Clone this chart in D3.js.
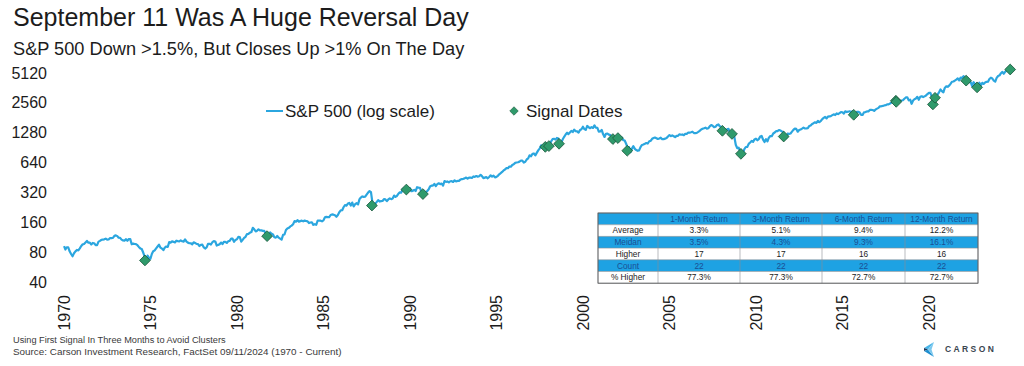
<!DOCTYPE html>
<html>
<head>
<meta charset="utf-8">
<script src="https://cdn.jsdelivr.net/npm/d3@7"></script>
<style>
  body { margin: 0; background: #fff; }
  svg { display: block; font-family: "Liberation Sans", Arial, sans-serif; }
</style>
</head>
<body>
<div id="chart"></div>
<script>
// S&P 500 month-end closes (one row per year)
const spxCloses = [
  [1970, [85.0, 89.5, 89.6, 81.5, 76.6, 72.7, 78.0, 81.5, 84.2, 83.3, 87.2, 92.2]],
  [1971, [95.9, 96.8, 100.3, 103.9, 99.6, 99.7, 95.6, 99.0, 98.3, 94.2, 94.0, 102.1]],
  [1972, [103.9, 106.6, 107.2, 107.7, 109.5, 107.1, 107.4, 111.1, 110.6, 111.6, 116.7, 118.1]],
  [1973, [116.0, 111.7, 111.5, 107.0, 105.0, 104.3, 108.2, 104.3, 108.4, 108.3, 96.0, 97.6]],
  [1974, [96.6, 96.2, 94.0, 90.3, 87.3, 86.0, 79.3, 72.2, 63.5, 73.9, 70.0, 68.6]],
  [1975, [77.0, 81.6, 83.4, 87.3, 91.2, 95.2, 88.8, 86.9, 83.9, 89.0, 91.2, 90.2]],
  [1976, [100.9, 99.7, 102.8, 101.6, 100.2, 104.3, 103.4, 102.9, 105.2, 102.9, 102.1, 107.5]],
  [1977, [102.0, 99.8, 98.4, 98.4, 96.1, 100.5, 98.9, 97.0, 96.5, 92.3, 94.8, 95.1]],
  [1978, [89.3, 87.0, 89.2, 97.0, 97.2, 95.5, 100.7, 103.3, 102.5, 93.2, 94.7, 96.1]],
  [1979, [99.9, 96.3, 101.6, 101.8, 99.1, 102.9, 103.8, 109.3, 109.3, 101.8, 106.2, 107.9]],
  [1980, [114.2, 113.7, 102.1, 106.3, 111.2, 114.2, 121.7, 122.4, 125.5, 127.5, 140.5, 135.8]],
  [1981, [129.6, 131.3, 136.0, 132.8, 132.6, 131.2, 130.9, 122.8, 116.2, 121.9, 126.4, 122.6]],
  [1982, [120.4, 113.1, 112.0, 116.4, 111.9, 109.6, 107.1, 119.5, 120.4, 133.7, 138.5, 140.6]],
  [1983, [145.3, 148.1, 153.0, 164.4, 162.4, 168.1, 162.6, 164.4, 166.1, 163.6, 166.4, 164.9]],
  [1984, [163.4, 157.1, 159.2, 160.1, 150.6, 153.2, 150.7, 166.7, 166.1, 166.1, 163.6, 167.2]],
  [1985, [179.6, 181.2, 180.7, 179.8, 189.6, 191.9, 190.9, 188.6, 182.1, 189.8, 202.2, 211.3]],
  [1986, [211.8, 226.9, 238.9, 235.5, 247.4, 250.8, 236.1, 252.9, 231.3, 244.0, 249.2, 242.2]],
  [1987, [274.1, 284.2, 291.7, 288.4, 290.1, 304.0, 318.7, 329.8, 321.8, 251.8, 230.3, 247.1]],
  [1988, [257.1, 267.8, 258.9, 261.3, 262.2, 273.5, 272.0, 261.5, 271.9, 279.0, 273.7, 277.7]],
  [1989, [297.5, 288.9, 294.9, 309.6, 320.5, 318.0, 346.1, 351.5, 349.2, 340.4, 346.0, 353.4]],
  [1990, [329.1, 331.9, 339.9, 330.8, 361.2, 358.0, 356.2, 322.6, 306.1, 304.0, 322.2, 330.2]],
  [1991, [343.9, 367.1, 375.2, 375.3, 389.8, 371.2, 387.8, 395.4, 387.9, 392.5, 375.2, 417.1]],
  [1992, [408.8, 412.7, 403.7, 415.0, 415.4, 408.1, 424.2, 414.0, 417.8, 418.7, 431.4, 435.7]],
  [1993, [438.8, 443.4, 451.7, 440.2, 450.2, 450.5, 448.1, 463.6, 458.9, 467.8, 461.8, 466.5]],
  [1994, [481.6, 467.1, 445.8, 450.9, 456.5, 444.3, 458.3, 475.5, 462.7, 472.4, 453.7, 459.3]],
  [1995, [470.4, 487.4, 500.7, 514.7, 533.4, 544.8, 562.1, 561.9, 584.4, 581.5, 605.4, 615.9]],
  [1996, [636.0, 640.4, 645.5, 654.2, 669.1, 670.6, 640.0, 652.0, 687.3, 705.3, 757.0, 740.7]],
  [1997, [786.2, 790.8, 757.1, 801.3, 848.3, 885.1, 954.3, 899.5, 947.3, 914.6, 955.4, 970.4]],
  [1998, [980.3, 1049.3, 1101.8, 1111.8, 1090.8, 1133.8, 1120.7, 957.3, 1017.0, 1098.7, 1163.6, 1229.2]],
  [1999, [1279.6, 1238.3, 1286.4, 1335.2, 1301.8, 1372.7, 1328.7, 1320.4, 1282.7, 1362.9, 1388.9, 1469.3]],
  [2000, [1394.5, 1366.4, 1498.6, 1452.4, 1420.6, 1454.6, 1430.8, 1517.7, 1436.5, 1429.4, 1315.2, 1320.3]],
  [2001, [1366.0, 1239.9, 1160.3, 1249.5, 1255.8, 1224.4, 1211.2, 1133.6, 1040.9, 1059.8, 1139.5, 1148.1]],
  [2002, [1130.2, 1106.7, 1147.4, 1076.9, 1067.1, 989.8, 911.6, 916.1, 815.3, 885.8, 936.3, 879.8]],
  [2003, [855.7, 841.2, 848.2, 916.9, 963.6, 974.5, 990.3, 1008.0, 996.0, 1050.7, 1058.2, 1111.9]],
  [2004, [1131.1, 1144.9, 1126.2, 1107.3, 1120.7, 1140.8, 1101.7, 1104.2, 1114.6, 1130.2, 1173.8, 1211.9]],
  [2005, [1181.3, 1203.6, 1180.6, 1156.9, 1191.5, 1191.3, 1234.2, 1220.3, 1228.8, 1207.0, 1249.5, 1248.3]],
  [2006, [1280.1, 1280.7, 1294.9, 1310.6, 1270.1, 1270.2, 1276.7, 1303.8, 1335.9, 1377.9, 1400.6, 1418.3]],
  [2007, [1438.2, 1406.8, 1420.9, 1482.4, 1530.6, 1503.4, 1455.3, 1474.0, 1526.8, 1549.4, 1481.1, 1468.4]],
  [2008, [1378.6, 1330.6, 1322.7, 1385.6, 1400.4, 1280.0, 1267.4, 1282.8, 1166.4, 968.8, 896.2, 903.3]],
  [2009, [825.9, 735.1, 797.9, 872.8, 919.1, 919.3, 987.5, 1020.6, 1057.1, 1036.2, 1095.6, 1115.1]],
  [2010, [1073.9, 1104.5, 1169.4, 1186.7, 1089.4, 1030.7, 1101.6, 1049.3, 1141.2, 1183.3, 1180.6, 1257.6]],
  [2011, [1286.1, 1327.2, 1325.8, 1363.6, 1345.2, 1320.6, 1292.3, 1218.9, 1131.4, 1253.3, 1247.0, 1257.6]],
  [2012, [1312.4, 1365.7, 1408.5, 1397.9, 1310.3, 1362.2, 1379.3, 1406.6, 1440.7, 1412.2, 1416.2, 1426.2]],
  [2013, [1498.1, 1514.7, 1569.2, 1597.6, 1630.7, 1606.3, 1685.7, 1633.0, 1681.6, 1756.5, 1805.8, 1848.4]],
  [2014, [1782.6, 1859.5, 1872.3, 1884.0, 1923.6, 1960.2, 1930.7, 2003.4, 1972.3, 2018.1, 2067.6, 2058.9]],
  [2015, [1995.0, 2104.5, 2067.9, 2085.5, 2107.4, 2063.1, 2103.8, 1972.2, 1920.0, 2079.4, 2080.4, 2043.9]],
  [2016, [1940.2, 1932.2, 2059.7, 2065.3, 2097.0, 2098.9, 2173.6, 2171.0, 2168.3, 2126.2, 2198.8, 2238.8]],
  [2017, [2278.9, 2363.6, 2362.7, 2384.2, 2411.8, 2423.4, 2470.3, 2471.7, 2519.4, 2575.3, 2647.6, 2673.6]],
  [2018, [2823.8, 2713.8, 2640.9, 2648.1, 2705.3, 2718.4, 2816.3, 2901.5, 2914.0, 2711.7, 2760.2, 2506.9]],
  [2019, [2704.1, 2784.5, 2834.4, 2945.8, 2752.1, 2941.8, 2980.4, 2926.5, 2976.7, 3037.6, 3141.0, 3230.8]],
  [2020, [3225.5, 2954.2, 2584.6, 2912.4, 3044.3, 3100.3, 3271.1, 3500.3, 3363.0, 3270.0, 3621.6, 3756.1]],
  [2021, [3714.2, 3811.2, 3972.9, 4181.2, 4204.1, 4297.5, 4395.3, 4522.7, 4307.5, 4605.4, 4567.0, 4766.2]],
  [2022, [4515.6, 4373.9, 4530.4, 4131.9, 4132.2, 3785.4, 4130.3, 3955.0, 3585.6, 3872.0, 4080.1, 3839.5]],
  [2023, [4076.6, 3970.2, 4109.3, 4169.5, 4179.8, 4450.4, 4589.0, 4507.7, 4288.1, 4193.8, 4567.8, 4769.8]],
  [2024, [4845.7, 5096.3, 5254.4, 5035.7, 5277.5, 5460.5, 5522.3, 5648.4]]
];
const spxStart = ["1970-01-02", 92.1];
const spxLast = ["2024-09-11", 5554.1];

// Signal dates (down >1.5% intraday, close up >1%)
const signalDates = [
  "1974-09-06", "1981-09-28", "1987-10-20", "1989-10-16", "1990-10-01",
  "1997-10-28", "1998-01-12", "1998-08-14", "2001-09-24", "2002-01-08",
  "2002-07-24", "2008-01-23", "2008-08-12", "2009-02-17", "2011-08-09",
  "2015-08-26", "2018-02-01", "2018-02-09", "2020-03-24", "2020-05-08",
  "2022-02-24", "2022-10-13", "2024-09-11"
];
const signalValues = [
  66, 116, 236, 342, 308,
  922, 939, 990, 1105, 1130,
  843, 1338, 1245, 784, 1172,
  1940, 2690, 2620, 2470, 2880,
  4288, 3669, 5554
];

const yTicks = [40, 80, 160, 320, 640, 1280, 2560, 5120];
const xTickYears = [1970, 1975, 1980, 1985, 1990, 1995, 2000, 2005, 2010, 2015, 2020];

// stats table
const tableHeader = ["", "1-Month Return", "3-Month Return", "6-Month Return", "12-Month Return"];
const tableRowLabels = ["Average", "Meidan", "Higher", "Count", "% Higher"];
const tableValues = [
  ["3.3%", "5.1%", "9.4%", "12.2%"],
  ["3.5%", "4.3%", "9.3%", "16.1%"],
  ["17", "17", "16", "16"],
  ["22", "22", "22", "22"],
  ["77.3%", "77.3%", "72.7%", "72.7%"]
];

const W = 1024, H = 366;
const lineColor = "#2ba6df";
const diamondFill = "#2f9a6b";
const tableBlue = "#1ea2e3";

const parse = d3.timeParse("%Y-%m-%d");
const series = [{ date: parse(spxStart[0]), value: spxStart[1] }];
spxCloses.forEach(([yr, vals]) => {
  vals.forEach((v, m) => series.push({ date: new Date(yr, m + 1, 0), value: v }));
});
series.push({ date: parse(spxLast[0]), value: spxLast[1] });

const signals = signalDates.map((d, i) => ({ date: parse(d), value: signalValues[i] }));

const svg = d3.select("#chart").append("svg")
  .attr("width", W)
  .attr("height", H);

svg.append("rect").attr("width", W).attr("height", H).attr("fill", "#fff");

const x = d3.scaleTime()
  .domain([new Date(1970, 0, 1), new Date(2025, 0, 1)])
  .range([64, 64 + 55 * 17.3]);

const y = d3.scaleLog().base(2)
  .domain([40, 5120])
  .range([282, 73]);

// titles
svg.append("text")
  .attr("x", 13).attr("y", 26)
  .attr("font-size", 25)
  .attr("fill", "#1c1c1c")
  .text("September 11 Was A Huge Reversal Day");

svg.append("text")
  .attr("x", 13).attr("y", 55)
  .attr("font-size", 18.2)
  .attr("fill", "#1c1c1c")
  .text("S&P 500 Down >1.5%, But Closes Up >1% On The Day");

// y axis labels
svg.append("g").selectAll("text")
  .data(yTicks)
  .join("text")
  .attr("x", 47)
  .attr("y", d => y(d))
  .attr("dy", "0.35em")
  .attr("text-anchor", "end")
  .attr("font-size", 16)
  .attr("fill", "#1c1c1c")
  .text(d => d);

// x axis labels (rotated)
svg.append("g").selectAll("text")
  .data(xTickYears)
  .join("text")
  .attr("transform", d => `translate(${x(new Date(d, 0, 1))},295) rotate(-90)`)
  .attr("dy", "0.35em")
  .attr("text-anchor", "end")
  .attr("font-size", 16)
  .attr("fill", "#1c1c1c")
  .text(d => d);

// price line
const line = d3.line()
  .x(d => x(d.date))
  .y(d => y(d.value));

svg.append("path")
  .datum(series)
  .attr("fill", "none")
  .attr("stroke", lineColor)
  .attr("stroke-width", 2.2)
  .attr("stroke-linejoin", "round")
  .attr("d", line);

// signal diamonds
const diamond = d3.symbol().type(d3.symbolSquare).size(58);
svg.append("g").selectAll("path")
  .data(signals)
  .join("path")
  .attr("transform", d => `translate(${x(d.date)},${y(d.value)}) rotate(45)`)
  .attr("d", diamond)
  .attr("fill", diamondFill)
  .attr("stroke", "#1d5a3e")
  .attr("stroke-width", 0.8);

// legend
const legend = svg.append("g");
legend.append("line")
  .attr("x1", 266).attr("x2", 283)
  .attr("y1", 111).attr("y2", 111)
  .attr("stroke", lineColor).attr("stroke-width", 2);
legend.append("text")
  .attr("x", 285).attr("y", 111).attr("dy", "0.35em")
  .attr("font-size", 17).attr("fill", "#1c1c1c")
  .text("S&P 500 (log scale)");
legend.append("path")
  .attr("transform", "translate(514,111) rotate(45)")
  .attr("d", d3.symbol().type(d3.symbolSquare).size(36))
  .attr("fill", diamondFill).attr("stroke", "#1d5a3e").attr("stroke-width", 0.6);
legend.append("text")
  .attr("x", 526).attr("y", 111).attr("dy", "0.35em")
  .attr("font-size", 17).attr("fill", "#1c1c1c")
  .text("Signal Dates");

// table
const colEdges = [598, 658, 740, 822, 905, 978];
const rowTop = 213, rowH = 11.7;
const table = svg.append("g").attr("font-size", 8.3);
const allRows = [tableHeader].concat(tableRowLabels.map((r, i) => [r].concat(tableValues[i])));

allRows.forEach((row, ri) => {
  const isBlue = ri === 0 || ri === 2 || ri === 4;
  const ty = rowTop + ri * rowH;
  table.append("rect")
    .attr("x", colEdges[0]).attr("y", ty)
    .attr("width", colEdges[5] - colEdges[0]).attr("height", rowH)
    .attr("fill", isBlue ? tableBlue : "#fff");
  row.forEach((cell, ci) => {
    table.append("text")
      .attr("x", (colEdges[ci] + colEdges[ci + 1]) / 2)
      .attr("y", ty + rowH / 2)
      .attr("dy", "0.35em")
      .attr("text-anchor", "middle")
      .attr("fill", isBlue ? "#1b4f94" : "#222")
      .text(cell);
  });
});

// table grid
const tableBottom = rowTop + allRows.length * rowH;
d3.range(allRows.length + 1).forEach(i => {
  table.append("line")
    .attr("x1", colEdges[0]).attr("x2", colEdges[5])
    .attr("y1", rowTop + i * rowH).attr("y2", rowTop + i * rowH)
    .attr("stroke", "#8a8f94").attr("stroke-width", 0.6);
});
colEdges.forEach(cx => {
  table.append("line")
    .attr("x1", cx).attr("x2", cx)
    .attr("y1", rowTop).attr("y2", tableBottom)
    .attr("stroke", "#8a8f94").attr("stroke-width", 0.6);
});
table.append("rect")
  .attr("x", colEdges[0]).attr("y", rowTop)
  .attr("width", colEdges[5] - colEdges[0]).attr("height", tableBottom - rowTop)
  .attr("fill", "none").attr("stroke", "#555").attr("stroke-width", 0.8);

// footnotes
svg.append("text")
  .attr("x", 13).attr("y", 343)
  .attr("font-size", 9.2).attr("fill", "#3a3a3a")
  .text("Using First Signal In Three Months to Avoid Clusters");
svg.append("text")
  .attr("x", 13).attr("y", 355)
  .attr("font-size", 9.9).attr("fill", "#3a3a3a")
  .text("Source: Carson Investment Research, FactSet 09/11/2024 (1970 - Current)");

// Carson logo
const logo = svg.append("g").attr("transform", "translate(924,342)");
logo.append("path").attr("d", "M10,0 L0,6 L4,7.5 Z").attr("fill", "#48b4e8");
logo.append("path").attr("d", "M0,6 L4,7.5 L0,9 Z").attr("fill", "#1d3557");
logo.append("path").attr("d", "M4,7.5 L0,9 L10,15 Z").attr("fill", "#1f8fd0");
logo.append("path").attr("d", "M10,0 L4,7.5 L10,15 L7.5,7.5 Z").attr("fill", "#7cc8ee");
svg.append("text")
  .attr("x", 945).attr("y", 352)
  .attr("font-size", 8.5)
  .attr("font-weight", "bold")
  .attr("letter-spacing", 2.4)
  .attr("fill", "#3a4550")
  .text("CARSON");
</script>
</body>
</html>
